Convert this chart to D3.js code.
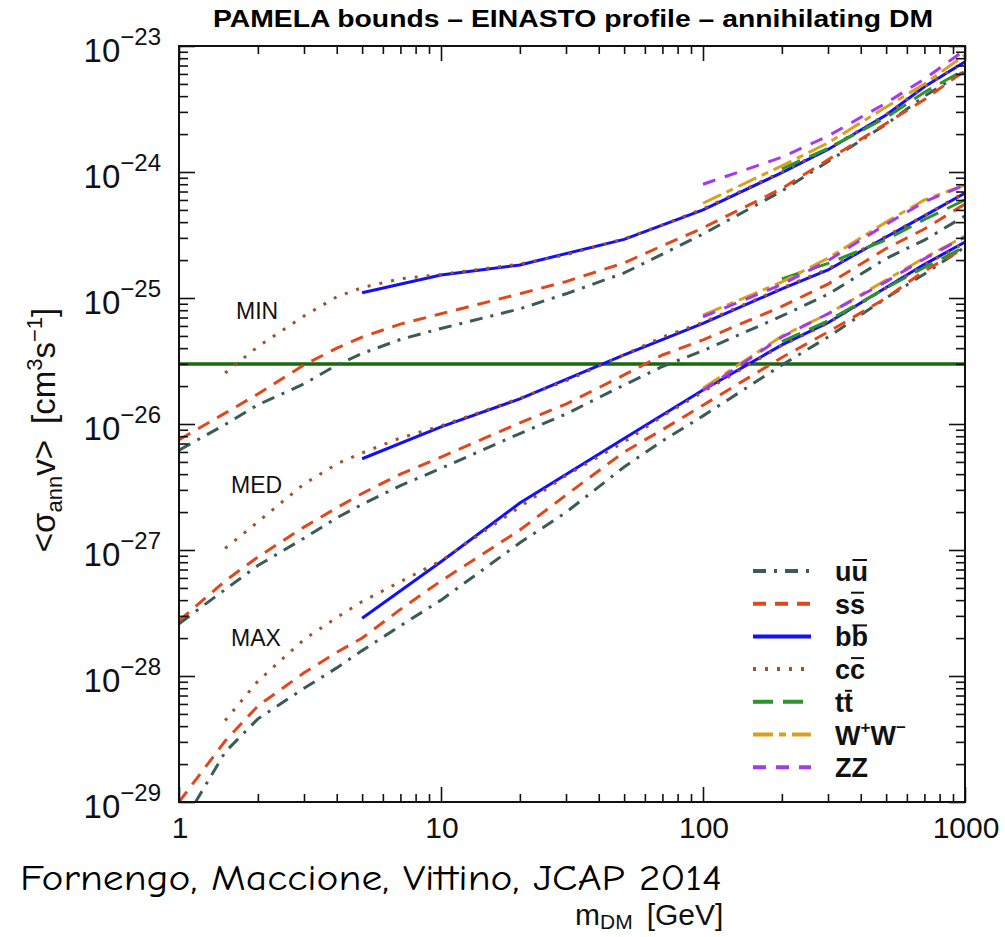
<!DOCTYPE html>
<html><head><meta charset="utf-8">
<script src="https://cdn.jsdelivr.net/npm/d3@7"></script>
<style>body{margin:0;background:#fff}</style>
</head><body><svg id="c" width="1005" height="937"></svg>
<script>
// ---------- DATA ----------
const massLight  = [1,1.5,2,3,4,5,7,10,20,30,50,70,100,200,300,500,700,1000];
const massCharm  = [1.5,2,3,4,5,7,10,20,30,50,70,100,200,300,500,700,1000];
const massBottom = [5,10,20,50,100,200,300,500,700,1000];
const massGauge  = [100,200,300,500,700,1000];
const massTop    = [200,300,500,700,1000];

// u ubar
const uuMin = [6.2e-27,9.9e-27,1.42e-26,2.08e-26,2.94e-26,3.63e-26,4.69e-26,5.73e-26,8.2e-26,1.08e-25,1.58e-25,2.23e-25,3.22e-25,7.06e-25,1.21e-24,2.39e-24,4.0e-24,6.3e-24];
const uuMed = [2.6e-28,4.86e-28,7.53e-28,1.24e-27,1.8e-27,2.3e-27,3.24e-27,4.45e-27,8.4e-27,1.2e-26,2.04e-26,2.86e-26,3.82e-26,7.2e-26,1.07e-25,2.06e-25,2.88e-25,4.48e-25];
const uuMax = [6.0e-30,2.49e-29,4.57e-29,7.98e-29,1.16e-28,1.59e-28,2.5e-28,4.0e-28,1.14e-27,1.99e-27,4.56e-27,7.33e-27,1.16e-26,2.94e-26,4.9e-26,1.0e-25,1.55e-25,2.54e-25];
// s sbar
const ssMin = [7.5e-27,1.22e-26,1.73e-26,2.94e-26,4.0e-26,4.9e-26,6.2e-26,7.5e-26,1.08e-25,1.35e-25,1.9e-25,2.6e-25,3.6e-25,7.4e-25,1.25e-24,2.43e-24,3.76e-24,6.4e-24];
const ssMed = [2.74e-28,5.68e-28,8.8e-28,1.52e-27,2.16e-27,2.81e-27,4.0e-27,5.47e-27,1.02e-26,1.44e-26,2.45e-26,3.53e-26,4.65e-26,8.57e-26,1.29e-25,2.47e-25,3.53e-25,5.57e-25];
const ssMax = [1.0e-29,3.05e-29,5.78e-29,1.06e-28,1.54e-28,2.0e-28,3.38e-28,5.68e-28,1.44e-27,2.73e-27,6.0e-27,9.0e-27,1.41e-26,3.37e-26,5.37e-26,1.0e-25,1.64e-25,2.5e-25];
// b bbar
const bbMin = [1.10e-25,1.52e-25,1.83e-25,2.92e-25,5.0e-25,9.9e-25,1.51e-24,2.83e-24,4.75e-24,7.5e-24];
const bbMed = [5.3e-27,9.5e-27,1.58e-26,3.53e-26,6.3e-26,1.18e-25,1.67e-25,3.05e-25,4.48e-25,6.8e-25];
const bbMax = [2.87e-28,8.07e-28,2.36e-27,7.67e-27,1.86e-26,4.24e-26,6.37e-26,1.21e-25,1.85e-25,2.78e-25];
// c cbar
const ccMin = [2.54e-26,4.11e-26,7.2e-26,1.02e-25,1.21e-25,1.42e-25,1.54e-25,1.86e-25,2.2e-25,2.95e-25,3.8e-25,5.1e-25,1.0e-24,1.53e-24,2.85e-24,4.8e-24,7.5e-24];
const ccMed = [1.03e-27,1.67e-27,3.34e-27,4.82e-27,5.9e-27,7.75e-27,9.65e-27,1.6e-26,2.2e-26,3.55e-26,4.9e-26,6.4e-26,1.2e-25,1.7e-25,3.1e-25,4.5e-25,6.9e-25];
const ccMax = [4.43e-29,9.1e-29,1.95e-28,2.91e-28,3.9e-28,5.6e-28,8.2e-28,2.2e-27,3.9e-27,7.2e-27,1.15e-26,1.8e-26,4.2e-26,6.3e-26,1.2e-25,1.82e-25,2.75e-25];
// t tbar
const ttMin = [1.06e-24,1.54e-24,2.7e-24,4.3e-24,6.5e-24];
const ttMed = [1.42e-25,1.88e-25,2.9e-25,4.2e-25,6.0e-25];
const ttMax = [4.5e-26,6.6e-26,1.2e-25,1.75e-25,2.55e-25];
// W+W-
const wwMin = [5.65e-25,1.12e-24,1.70e-24,3.28e-24,5.0e-24,8.5e-24];
const wwMed = [7.3e-26,1.34e-25,2.07e-25,4.0e-25,6.0e-25,7.9e-25];
const wwMax = [1.92e-26,4.99e-26,7.47e-26,1.39e-25,2.08e-25,3.1e-25];
// ZZ
const zzMin = [8.0e-25,1.31e-24,1.93e-24,3.53e-24,5.47e-24,9.3e-24];
const zzMed = [7.1e-26,1.28e-25,1.98e-25,3.85e-25,5.8e-25,7.9e-25];
const zzMax = [1.85e-26,4.9e-26,7.5e-26,1.35e-25,2.05e-25,3.05e-25];

const thermalXsec = 3e-26;
const groupLabels = ["MIN","MED","MAX"];
const groupLabelMass = [1.65, 1.58, 1.58];
const groupLabelValue = [6.8e-26, 2.83e-27, 1.73e-28];
const xTickLabels = ["1","10","100","1000"];
const yTickExponents = [-23,-24,-25,-26,-27,-28,-29];

// ---------- SETUP ----------
const svg = d3.select("#c");
const L=179, R=965, T=46, B=802;
const x = d3.scaleLog().domain([1,1000]).range([L,R]);
const y = d3.scaleLog().domain([1e-29,1e-23]).range([B,T]);
const FONT = "'Liberation Sans', Arial, Helvetica, sans-serif";

const channels = [
  {key:"uu", mass:massLight,  data:[uuMin,uuMed,uuMax], color:"#3b5b56", dash:"13,8,3,8", w:3},
  {key:"ss", mass:massLight,  data:[ssMin,ssMed,ssMax], color:"#e2471c", dash:"13,9",     w:3},
  {key:"bb", mass:massBottom, data:[bbMin,bbMed,bbMax], color:"#1010ff", dash:null,       w:3},
  {key:"cc", mass:massCharm,  data:[ccMin,ccMed,ccMax], color:"#a0522d", dash:"3,9",      w:3},
  {key:"tt", mass:massTop,    data:[ttMin,ttMed,ttMax], color:"#2a962a", dash:"20,10",    w:3},
  {key:"WW", mass:massGauge,  data:[wwMin,wwMed,wwMax], color:"#d9a01e", dash:"20,6,7,6", w:3},
  {key:"ZZ", mass:massGauge,  data:[zzMin,zzMed,zzMax], color:"#a638f0", dash:"13,10",    w:3}
];

svg.append("defs").append("clipPath").attr("id","clip")
  .append("rect").attr("x",L).attr("y",T).attr("width",R-L).attr("height",B-T);

// title
svg.append("text").attr("x",573).attr("y",27).attr("text-anchor","middle")
  .attr("font-family",FONT).attr("font-weight","bold").attr("font-size",23)
  .attr("textLength",720).attr("lengthAdjust","spacingAndGlyphs")
  .text("PAMELA bounds – EINASTO profile – annihilating DM");

// thermal line
const plot = svg.append("g").attr("clip-path","url(#clip)");
plot.append("line").attr("x1",L).attr("x2",R)
  .attr("y1",y(thermalXsec)).attr("y2",y(thermalXsec))
  .attr("stroke","#176a0c").attr("stroke-width",3.5);

const line = d3.line().x(d=>x(d[0])).y(d=>y(d[1]));
channels.forEach(ch=>{
  ch.data.forEach(vals=>{
    const pts = ch.mass.map((m,i)=>[m,vals[i]]);
    plot.append("path").attr("d",line(pts)).attr("fill","none")
      .attr("stroke",ch.color).attr("stroke-width",ch.w)
      .attr("stroke-dasharray",ch.dash);
  });
});

// group labels
groupLabels.forEach((t,i)=>{
  svg.append("text").attr("x",x(groupLabelMass[i])).attr("y",y(groupLabelValue[i]))
    .attr("font-family",FONT).attr("font-size",23).attr("fill","#111").text(t);
});

// ---------- AXES ----------
const decades = [1,10,100];
const xMinor = []; decades.forEach(d=>{for(let k=2;k<=9;k++) xMinor.push(d*k);});
const xMajor = [1,10,100,1000];
const yMajor = yTickExponents.map(e=>Math.pow(10,e));
const yMinor = []; yTickExponents.slice(1).forEach(e=>{for(let k=2;k<=9;k++) yMinor.push(k*Math.pow(10,e));});

function tickAxis(gen, vals, size, tx, ty){
  const g = svg.append("g").attr("transform",`translate(${tx},${ty})`)
    .call(gen.tickValues(vals).tickSize(size).tickFormat(""));
  g.select(".domain").remove();
  g.selectAll("line").attr("stroke","#111").attr("stroke-width",1.6);
}
tickAxis(d3.axisBottom(x), xMajor, -15, 0, B);
tickAxis(d3.axisBottom(x), xMinor, -8, 0, B);
tickAxis(d3.axisTop(x), xMajor, -15, 0, T);
tickAxis(d3.axisTop(x), xMinor, -8, 0, T);
tickAxis(d3.axisLeft(y), yMajor, -16, L, 0);
tickAxis(d3.axisLeft(y), yMinor, -9, L, 0);
tickAxis(d3.axisRight(y), yMajor, -16, R, 0);
tickAxis(d3.axisRight(y), yMinor, -9, R, 0);

svg.append("rect").attr("x",L).attr("y",T).attr("width",R-L).attr("height",B-T)
  .attr("fill","none").attr("stroke","#111").attr("stroke-width",2);

// x tick labels
xMajor.forEach((v,i)=>{
  svg.append("text").attr("x",x(v)+1).attr("y",838).attr("text-anchor","middle")
    .attr("font-family",FONT).attr("font-size",30).attr("fill","#111").text(xTickLabels[i]);
});
// y tick labels
yTickExponents.forEach(e=>{
  const t = svg.append("text").attr("x",161).attr("y",y(Math.pow(10,e))+16)
    .attr("text-anchor","end").attr("font-family",FONT).attr("fill","#111");
  t.append("tspan").attr("font-size",33).text("10");
  t.append("tspan").attr("font-size",24).attr("dy",-17).text("−"+Math.abs(e));
});

// axis titles
const yt = svg.append("text").attr("transform","translate(55,430) rotate(-90)")
  .attr("text-anchor","middle").attr("font-family",FONT).attr("font-size",33).attr("fill","#111");
yt.append("tspan").text("<σ");
yt.append("tspan").attr("font-size",22).attr("dy",7).text("ann");
yt.append("tspan").attr("dy",-7).text("v>");
yt.append("tspan").attr("dx",16).text("[cm");
yt.append("tspan").attr("font-size",22).attr("dy",-13).text("3");
yt.append("tspan").attr("dy",13).text("s");
yt.append("tspan").attr("font-size",22).attr("dy",-13).text("−1");
yt.append("tspan").attr("dy",13).text("]");

const xt = svg.append("text").attr("x",575).attr("y",925)
  .attr("font-family",FONT).attr("font-size",30).attr("fill","#111");
xt.append("tspan").text("m");
xt.append("tspan").attr("font-size",21).attr("dy",4).text("DM");
xt.append("tspan").attr("dy",-4).attr("dx",14).text("[GeV]");

svg.append("text").attr("x",20).attr("y",890)
  .attr("font-family","'Comic Sans MS','Comic Neue','DejaVu Sans',sans-serif").attr("font-size",36)
  .attr("textLength",702).attr("lengthAdjust","spacingAndGlyphs").attr("fill","#000")
  .text("Fornengo, Maccione, Vittino, JCAP 2014");

// ---------- LEGEND ----------
const legendY0 = 571, legendStep = 32.7;
channels.forEach((ch,i)=>{
  const ly = legendY0 + i*legendStep;
  svg.append("line").attr("x1",753).attr("x2",811).attr("y1",ly).attr("y2",ly)
    .attr("stroke",ch.color).attr("stroke-width",ch.w+1).attr("stroke-dasharray",ch.dash);
  const t = svg.append("text").attr("x",835).attr("y",ly+10)
    .attr("font-family",FONT).attr("font-weight","bold").attr("font-size",27).attr("fill","#111");
  if (ch.key==="WW"){
    t.append("tspan").text("W");
    t.append("tspan").attr("font-size",17).attr("dy",-12).text("+");
    t.append("tspan").attr("dy",12).text("W");
    t.append("tspan").attr("font-size",17).attr("dy",-12).text("−");
  } else if (ch.key==="ZZ"){
    t.text("ZZ");
  } else {
    t.text(ch.key);
    const n = t.node();
    const x0 = 835 + n.getSubStringLength(0,1);
    const w = n.getSubStringLength(1,1);
    svg.append("line").attr("x1",x0+1).attr("x2",x0+w-1)
      .attr("y1",ly+10-21).attr("y2",ly+10-21).attr("stroke","#111").attr("stroke-width",2);
  }
});
</script></body></html>
